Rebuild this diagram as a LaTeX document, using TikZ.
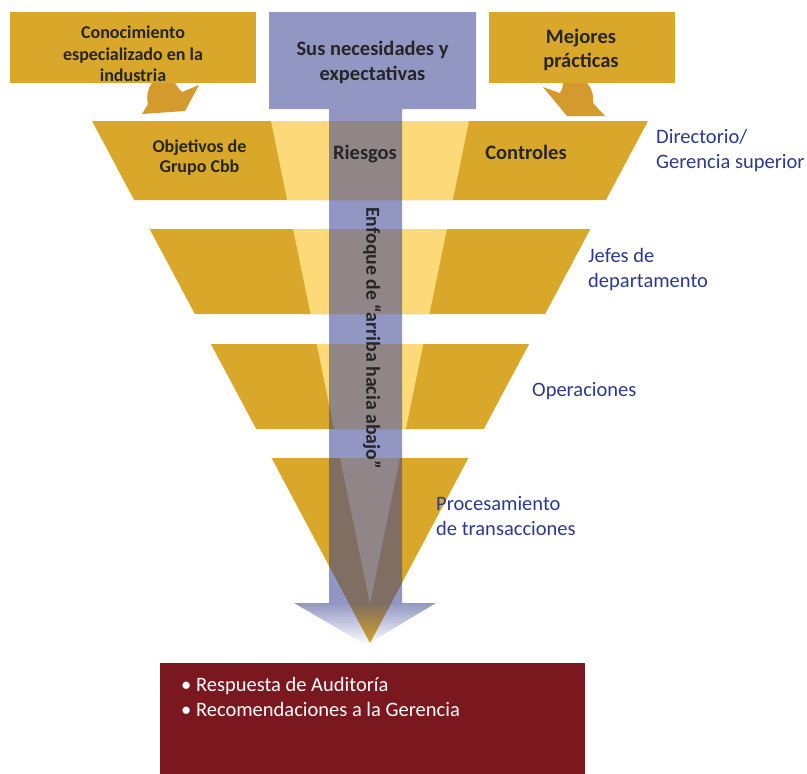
\documentclass[tikz,border=0pt]{standalone}
\usepackage{fontspec}
\setmainfont{Carlito}
\usetikzlibrary{fadings}
\tikzfading[name=headfade, top color=transparent!0, middle color=transparent!25, bottom color=transparent!100]
\begin{document}
\begin{tikzpicture}[x=1pt,y=-1pt]
\definecolor{gold}{RGB}{217,167,42}
\definecolor{lightgold}{RGB}{253,217,122}
\definecolor{arrowgold}{RGB}{212,154,46}
\definecolor{bluearrow}{RGB}{55,64,146}
\definecolor{labelblue}{RGB}{43,57,144}
\definecolor{darkred}{RGB}{123,23,30}
\definecolor{textdark}{RGB}{38,38,38}
\tikzset{
  goldbox/.style={fill=gold, draw=none, inner sep=0pt, anchor=north west},
  boldlabel/.style={text=textdark, font=\fontsize{20.5}{25}\selectfont\bfseries, align=center, inner sep=0pt},
  smallbold/.style={text=textdark, font=\fontsize{18}{21.5}\selectfont\bfseries, align=center, inner sep=0pt},
  levellabel/.style={text=labelblue, font=\fontsize{20.5}{25}\selectfont, align=left, inner sep=0pt, anchor=west},
  outerband/.style={fill=gold, draw=none},
  innerband/.style={fill=lightgold, draw=none},
  bentarrow/.style={fill=arrowgold, draw=none},
  bigarrow/.style={fill=bluearrow, fill opacity=0.55, draw=none},
}
\useasboundingbox (0,0) rectangle (807,774);

% top boxes
\node[goldbox, minimum width=246pt, minimum height=71pt] (know) at (10,12) {};
\node[goldbox, minimum width=186pt, minimum height=71pt] (best) at (489,12) {};

% funnel bands
\fill[outerband] (92,121) -- (648,121) -- (605.9,200) -- (134.1,200) -- cycle;
\fill[innerband] (271,121) -- (469,121) -- (452.8,200) -- (287.2,200) -- cycle;
\fill[outerband] (149.6,229) -- (590.4,229) -- (545.1,314) -- (194.9,314) -- cycle;
\fill[innerband] (293.1,229) -- (446.9,229) -- (429.4,314) -- (310.6,314) -- cycle;
\fill[outerband] (210.9,344) -- (529.1,344) -- (483.8,429) -- (256.2,429) -- cycle;
\fill[innerband] (316.7,344) -- (423.3,344) -- (405.9,429) -- (334.1,429) -- cycle;
\fill[outerband] (271.6,458) -- (468.4,458) -- (370,643) -- cycle;
\fill[innerband] (340.1,458) -- (399.9,458) -- (370,604) -- cycle;

% bent arrows
\fill[bentarrow] (152,83) -- (175,83) .. controls (177,86) and (179,89) .. (182,92)
  -- (199,85) -- (185,111) -- (142,114) -- (148,104)
  .. controls (146,96) and (148,88) .. (152,83) -- cycle;
\fill[bentarrow] (563,83) -- (587,83) .. controls (592,88) and (594,96) .. (593,103)
  -- (605,116) -- (567,116) -- (543,87) -- (560,93)
  .. controls (562,90) and (563,86) .. (563,83) -- cycle;

% big blue arrow: box and shaft, then fading head
\fill[bigarrow] (269,12) -- (476,12) -- (476,109) -- (402,109)
  -- (402,603) -- (329,603) -- (329,109) -- (269,109) -- cycle;
\fill[bigarrow, path fading=headfade] (294,603) -- (436,603) -- (366,645) -- cycle;

% texts
\node[smallbold] (knowtext) at (133,54.2) {Conocimiento\\especializado en la\\industria};
\node[boldlabel] (needs) at (372.5,62.3) {Sus necesidades y\\expectativas};
\node[boldlabel, font=\fontsize{20.5}{24}\selectfont\bfseries] (besttext) at (581,49.8) {Mejores\\prácticas};
\node[smallbold, font=\fontsize{18}{20}\selectfont\bfseries] (goals) at (199.5,157.5) {Objetivos de\\Grupo Cbb};
\node[boldlabel, anchor=base] (risks) at (365,159) {Riesgos};
\node[boldlabel, anchor=base] (controls) at (526,159) {Controles};
\node[boldlabel, font=\fontsize{19.8}{24}\selectfont\bfseries, rotate=-90] (approach) at (372,338) {Enfoque de “arriba hacia abajo”};

\node[levellabel] (board) at (656,150.3) {Directorio/\\Gerencia superior};
\node[levellabel] (heads) at (588,269.3) {Jefes de\\departamento};
\node[levellabel, anchor=base west] (ops) at (532,396) {Operaciones};
\node[levellabel] (trans) at (436,515.8) {Procesamiento\\de transacciones};

% bottom box
\node[fill=darkred, draw=none, inner sep=0pt, anchor=north west, minimum width=425pt, minimum height=111pt] (result) at (160,663) {};
\node[text=white, font=\fontsize{20.5}{25}\selectfont, align=left, inner sep=0pt, anchor=west] (resulttext) at (181,697.3)
  {\textbullet\ Respuesta de Auditoría\\\textbullet\ Recomendaciones a la Gerencia};
\end{tikzpicture}
\end{document}
